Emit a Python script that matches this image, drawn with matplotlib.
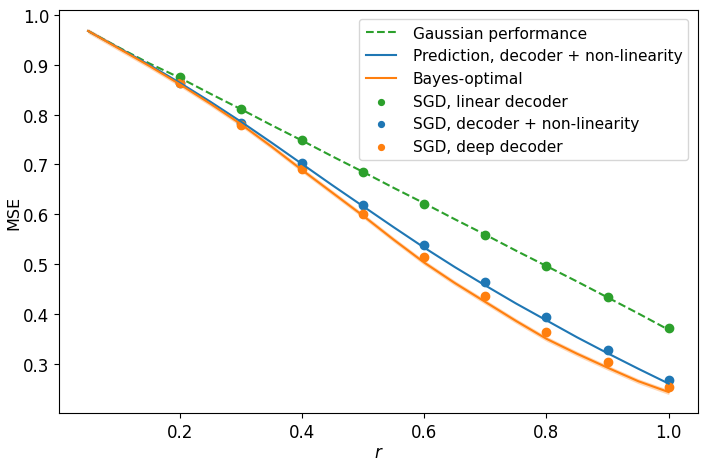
import numpy as np
import matplotlib
matplotlib.use("Agg")
import matplotlib.pyplot as plt

# curves
r_line = [0.05, 0.10, 0.15, 0.20, 0.25, 0.30, 0.35, 0.40, 0.45, 0.50,
          0.55, 0.60, 0.65, 0.70, 0.75, 0.80, 0.85, 0.90, 0.95, 1.00]
gauss = [0.968, 0.935, 0.903, 0.874, 0.842, 0.811, 0.779, 0.748, 0.716, 0.685,
         0.653, 0.622, 0.590, 0.559, 0.527, 0.496, 0.465, 0.433, 0.401, 0.368]
pred = [0.968, 0.934, 0.900, 0.864, 0.826, 0.786, 0.744, 0.701, 0.658, 0.616,
        0.574, 0.533, 0.494, 0.457, 0.421, 0.387, 0.353, 0.321, 0.290, 0.260]
bayes = [0.968, 0.933, 0.898, 0.861, 0.822, 0.781, 0.736, 0.689, 0.643, 0.597,
         0.549, 0.503, 0.462, 0.424, 0.386, 0.350, 0.320, 0.292, 0.265, 0.243]
bayes_err = 0.005

# SGD points
r_sgd = [0.2, 0.3, 0.4, 0.5, 0.6, 0.7, 0.8, 0.9, 1.0]
sgd_lin = [0.875, 0.811, 0.749, 0.685, 0.621, 0.559, 0.496, 0.434, 0.371]
sgd_nl = [0.863, 0.784, 0.702, 0.619, 0.539, 0.464, 0.393, 0.327, 0.267]
sgd_deep = [0.863, 0.780, 0.690, 0.601, 0.514, 0.435, 0.364, 0.304, 0.254]

fig = plt.figure(figsize=(7.05, 4.64), dpi=100)
ax = fig.add_axes([0.0837, 0.108, 0.906, 0.868])

ax.plot(r_line, gauss, "--", color="C2", label="Gaussian performance")
ax.plot(r_line, pred, color="C0", label="Prediction, decoder + non-linearity")
ax.plot(r_line, bayes, color="C1", label="Bayes-optimal")
b = np.array(bayes)
ax.fill_between(r_line, b - bayes_err, b + bayes_err, color="C1", alpha=0.3, lw=0)

ax.scatter(r_sgd, sgd_lin, color="C2", label="SGD, linear decoder")
ax.scatter(r_sgd, sgd_nl, color="C0", label="SGD, decoder + non-linearity")
ax.scatter(r_sgd, sgd_deep, color="C1", label="SGD, deep decoder")

ax.set_xlabel("$r$", fontsize=12, labelpad=2)
ax.set_ylabel("MSE", fontsize=11.5, labelpad=1)
ax.tick_params(labelsize=12)
ax.legend(fontsize=11.1, loc="upper right", markerscale=0.7,
          handletextpad=1.05, borderaxespad=0.6)

fig.savefig("out.png", dpi=100)
